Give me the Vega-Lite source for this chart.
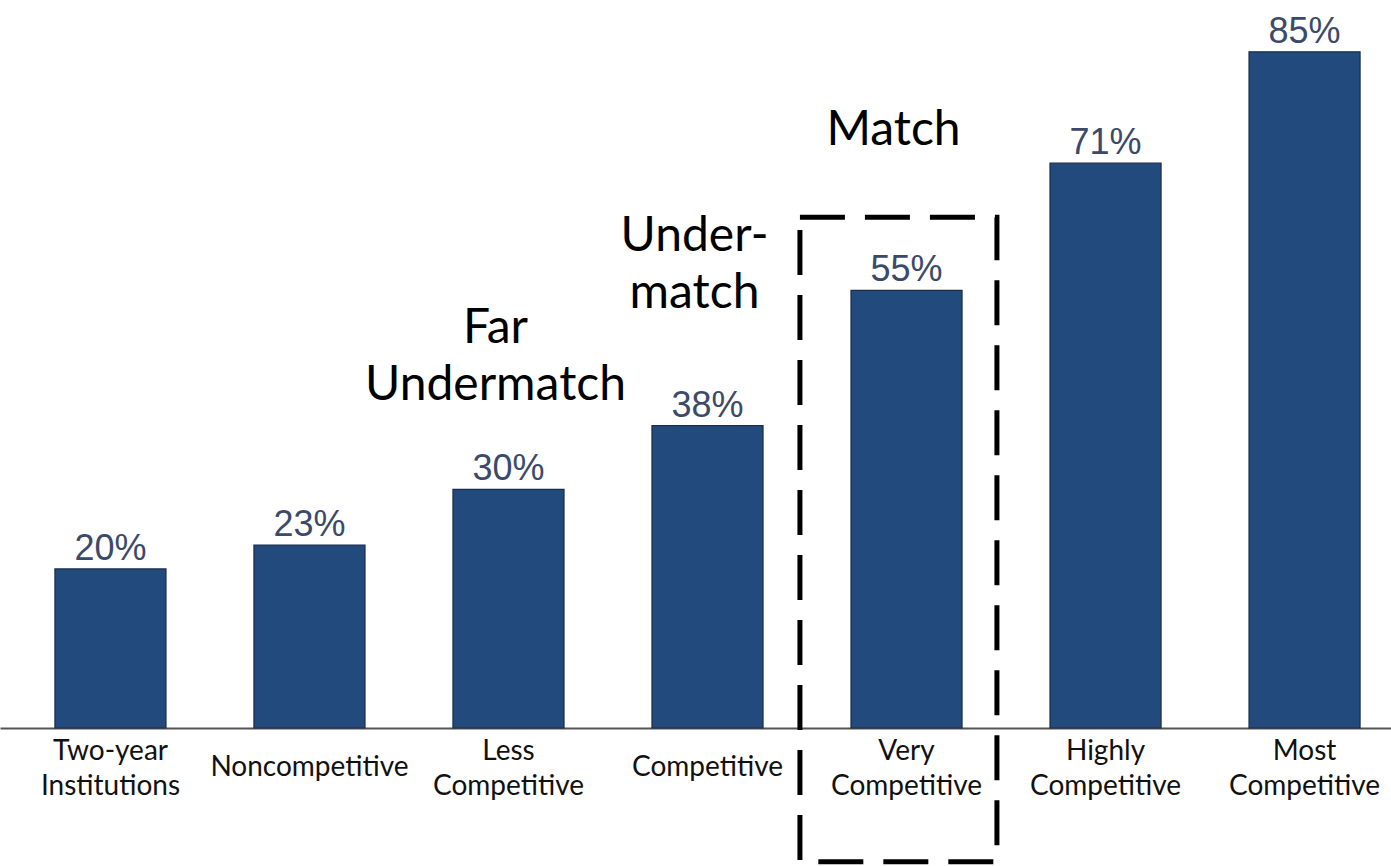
{
  "$schema": "https://vega.github.io/schema/vega-lite/v6.json",
  "autosize": "none",
  "padding": {"left": 0, "top": 12, "right": 0, "bottom": 138},
  "width": 1415,
  "height": 716,
  "background": "white",
  "config": {"view": {"stroke": null}},
  "datasets": {
    "bars": [
      {"category": "Two-year|Institutions", "value": 20, "label": "20%"},
      {"category": "Noncompetitive", "value": 23, "label": "23%"},
      {"category": "Less|Competitive", "value": 30, "label": "30%"},
      {"category": "Competitive", "value": 38, "label": "38%"},
      {"category": "Very|Competitive", "value": 55, "label": "55%"},
      {"category": "Highly|Competitive", "value": 71, "label": "71%"},
      {"category": "Most|Competitive", "value": 85, "label": "85%"}
    ],
    "notes": [
      {"category": "Less|Competitive", "y": 50.2, "text": "Far\nUndermatch"},
      {"category": "Competitive", "y": 61.7, "text": "Under-\nmatch"},
      {"category": "Very|Competitive", "y": 75.1, "text": "Match"}
    ],
    "box": [
      {"x": 4.02, "x2": 5.01, "y": 64.2, "y2": -16.8}
    ]
  },
  "layer": [
    {
      "layer": [
        {
          "data": {"name": "bars"},
          "mark": {"type": "bar", "color": "#224A7C", "stroke": "#1A2D4A", "strokeWidth": 1.2},
          "encoding": {
            "x": {
              "field": "category", "type": "nominal", "sort": null,
              "scale": {"paddingInner": 0.442, "paddingOuter": 0.276},
              "axis": {
                "title": null, "orient": "bottom", "labelAngle": 0, "ticks": false,
                "labelExpr": "split(datum.label, '|')",
                "labelFont": "Lato", "labelFontSize": 28, "labelColor": "#111111",
                "labelBaseline": "middle", "labelLineHeight": 35,
                "labelPadding": {"condition": {"test": "indexof(datum.value, '|') >= 0", "value": 23}, "value": 39},
                "domainColor": "#555555", "domainWidth": 2, "labelLimit": 400
              }
            },
            "y": {
              "field": "value", "type": "quantitative",
              "scale": {"domain": [0, 90], "nice": false},
              "axis": null
            }
          }
        },
        {
          "data": {"name": "bars"},
          "mark": {"type": "text", "font": "Liberation Sans", "fontSize": 36, "color": "#3B4A6B", "baseline": "alphabetic", "dy": -9},
          "encoding": {
            "x": {"field": "category", "type": "nominal", "sort": null},
            "y": {"field": "value", "type": "quantitative"},
            "text": {"field": "label"}
          }
        },
        {
          "data": {"name": "notes"},
          "mark": {"type": "text", "font": "Lato", "fontSize": 48, "color": "#000000", "baseline": "middle", "lineBreak": "\n", "lineHeight": 57, "dx": -13},
          "encoding": {
            "x": {"field": "category", "type": "nominal", "sort": null},
            "y": {"field": "y", "type": "quantitative"},
            "text": {"field": "text"}
          }
        }
      ]
    },
    {
      "data": {"name": "box"},
      "mark": {"type": "rect", "fill": null, "stroke": "#000000", "strokeWidth": 5, "strokeDash": [45, 20]},
      "encoding": {
        "x": {"field": "x", "type": "quantitative", "scale": {"domain": [0, 7.111], "nice": false, "zero": false}, "axis": null},
        "x2": {"field": "x2"},
        "y": {"field": "y", "type": "quantitative"},
        "y2": {"field": "y2"}
      }
    }
  ],
  "resolve": {"scale": {"x": "independent"}}
}
